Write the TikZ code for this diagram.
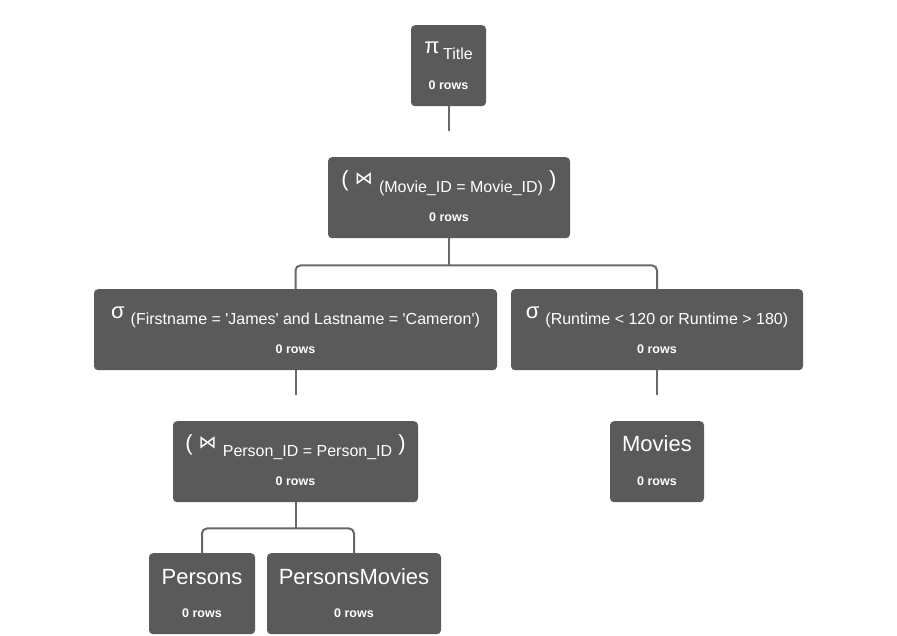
\documentclass[tikz,border=0pt]{standalone}
\usepackage{fontspec}
\setmainfont{Liberation Sans}
% family without TeX quote ligatures, so ' stays a straight quote
\newfontfamily\plainsans{Liberation Sans}
\newfontfamily\symfont{DejaVu Sans}
\definecolor{opgray}{HTML}{5A5A5A}
\definecolor{linkgray}{HTML}{686868}
\tikzset{
  opbox/.style={fill=opgray, rounded corners=4pt, minimum height=81pt,
    inner sep=0pt, anchor=north},
  link/.style={draw=linkgray, line width=2pt, rounded corners=5pt},
  big/.style={font=\plainsans\fontsize{22}{24}\selectfont, text=white,
    anchor=base, inner sep=0pt},
  rows/.style={font=\bfseries\fontsize{12.5}{14}\selectfont, text=white,
    inner sep=0pt},
}
% lowered operator argument
\newcommand{\opsub}[1]{\raisebox{-6pt}{\fontsize{16}{18}\selectfont #1}}
% natural join symbol
\newcommand{\natjoin}{\raisebox{2pt}{\symfont\fontsize{18}{20}\selectfont ⋈}}

\begin{document}
\begin{tikzpicture}[x=1pt, y=-1pt]
  \useasboundingbox (0,0) rectangle (897,635);

  % operator boxes
  \node[opbox, minimum width=75pt]  (pi) at (448.5,25)  {};
  \node[opbox, minimum width=242pt] (j1) at (449,157)   {};
  \node[opbox, minimum width=403pt] (s1) at (295.5,289) {};
  \node[opbox, minimum width=292pt] (s2) at (657,289)   {};
  \node[opbox, minimum width=245pt] (j2) at (295.5,421) {};
  \node[opbox, minimum width=94pt]  (mv) at (657,421)   {};
  \node[opbox, minimum width=106pt] (ps) at (202,553)   {};
  \node[opbox, minimum width=174pt] (pm) at (354,553)   {};

  % operator labels
  \node[big] (piT) at ([yshift=-28pt]pi.north) {π\,\opsub{Title}};
  \node[big] (j1T) at ([yshift=-29pt]j1.north)
    {( \natjoin\ \opsub{(Movie\_ID = Movie\_ID)} )};
  \node[big] (s1T) at ([yshift=-29pt]s1.north)
    {σ \opsub{(Firstname = 'James' and Lastname = 'Cameron')}};
  \node[big] (s2T) at ([yshift=-29pt]s2.north)
    {σ \opsub{(Runtime < 120 or Runtime > 180)}};
  \node[big] (j2T) at ([yshift=-29pt]j2.north)
    {( \natjoin\ \opsub{Person\_ID = Person\_ID} )};
  \node[big] (mvT) at ([yshift=-30pt]mv.north) {Movies};
  \node[big] (psT) at ([yshift=-31pt]ps.north) {Persons};
  \node[big] (pmT) at ([yshift=-31pt]pm.north) {PersonsMovies};

  % row counts
  \foreach \b in {pi,j1,s1,s2,j2,mv,ps,pm}
    \node[rows] (\b R) at ([yshift=-60pt]\b.north) {0 rows};

  % connectors
  \draw[link] (pi.south) -- ++(0,25);
  \draw[link] (j1.south) -- ++(0,27) coordinate (j1b);
  \draw[link] (s1.north) |- (j1b) -| (s2.north);
  \draw[link] (s1.south) -- ++(0,25);
  \draw[link] (s2.south) -- ++(0,25);
  \draw[link] (j2.south) -- ++(0,26) coordinate (j2b);
  \draw[link] (ps.north) |- (j2b) -| (pm.north);
\end{tikzpicture}
\end{document}
